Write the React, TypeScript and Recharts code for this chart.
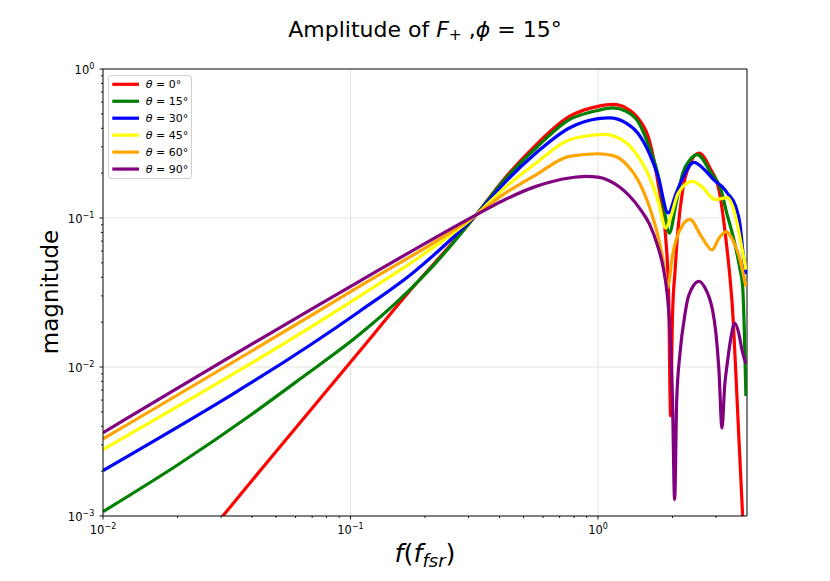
import React from 'react';
import { LineChart, Line, XAxis, YAxis, ReferenceLine } from 'recharts';

type P = { f: number; v: number };
const mk = (pts: number[][]): P[] => pts.map(([f, v]) => ({ f, v }));

// legend labels (theta in degrees) and colours
const thetaLabels = ['0', '15', '30', '45', '60', '90'];
const seriesColors = ['#ff0000', '#008000', '#0000ff', '#ffff00', '#ffa500', '#800080'];

// series values: [frequency (f_fsr), magnitude]
const theta0 = mk([
  [0.028, 0.00084], [0.0305, 0.001], [0.1086, 0.0127], [0.168, 0.0304], [0.322, 0.105],
  [0.412, 0.178], [0.562, 0.31], [0.766, 0.48], [1.0, 0.561], [1.15, 0.578], [1.3, 0.547],
  [1.45, 0.469], [1.61, 0.335], [1.75, 0.17], [1.88, 0.0715], [1.93, 0.03], [1.965, 0.0047],
  [2.0, 0.022], [2.05, 0.045], [2.1, 0.08], [2.2, 0.155], [2.35, 0.23], [2.56, 0.273],
  [2.84, 0.215], [3.08, 0.155], [3.29, 0.0715], [3.39, 0.045], [3.49, 0.0255], [3.6, 0.0096],
  [3.72, 0.003], [3.84, 0.001], [3.92, 0.0004],
]);
const theta15 = mk([
  [0.01, 0.00107], [0.02, 0.0022], [0.0398, 0.0048], [0.0631, 0.0084], [0.1086, 0.0165],
  [0.158, 0.0284], [0.224, 0.0512], [0.322, 0.105], [0.412, 0.175], [0.562, 0.295], [0.766, 0.457],
  [1.0, 0.528], [1.15, 0.548], [1.3, 0.52], [1.45, 0.445], [1.61, 0.3], [1.75, 0.193],
  [1.85, 0.115], [1.94, 0.079], [2.07, 0.126], [2.2, 0.2], [2.35, 0.245], [2.52, 0.266],
  [2.84, 0.205], [3.17, 0.147], [3.29, 0.113], [3.54, 0.0715], [3.75, 0.045], [3.84, 0.035],
  [3.9, 0.018], [3.96, 0.0064],
]);
const theta30 = mk([
  [0.01, 0.00202], [0.1086, 0.0236], [0.18, 0.0433],
  [0.25, 0.0698], [0.322, 0.105], [0.412, 0.167], [0.562, 0.273], [0.766, 0.402], [1.0, 0.464],
  [1.11, 0.47], [1.3, 0.434], [1.45, 0.371], [1.61, 0.273], [1.75, 0.19], [1.92, 0.108],
  [2.07, 0.147], [2.2, 0.185], [2.44, 0.236], [2.7, 0.21], [2.98, 0.176], [3.17, 0.163],
  [3.33, 0.147], [3.6, 0.12], [3.75, 0.09], [3.87, 0.055], [3.96, 0.042],
]);
const theta45 = mk([
  [0.01, 0.00279], [0.1086, 0.0298], [0.2, 0.058], [0.322, 0.105], [0.412, 0.155],
  [0.562, 0.234], [0.766, 0.335], [1.0, 0.362], [1.06, 0.364], [1.3, 0.32], [1.45, 0.26],
  [1.61, 0.19], [1.75, 0.13], [1.88, 0.0857], [1.97, 0.1025], [2.11, 0.147], [2.41, 0.176],
  [2.62, 0.163], [2.98, 0.133], [3.33, 0.137], [3.5, 0.12], [3.65, 0.092], [3.82, 0.062],
  [3.96, 0.045],
]);
const theta60 = mk([
  [0.01, 0.00329], [0.1086, 0.0347], [0.322, 0.105], [0.412, 0.143], [0.562, 0.195],
  [0.766, 0.259], [1.0, 0.27], [1.15, 0.262], [1.3, 0.23], [1.45, 0.18], [1.61, 0.12],
  [1.75, 0.075], [1.83, 0.0525], [1.91, 0.034], [2.0, 0.056], [2.07, 0.0715], [2.2, 0.09],
  [2.35, 0.098], [2.62, 0.075], [2.89, 0.061], [3.08, 0.073], [3.3, 0.081], [3.52, 0.07],
  [3.72, 0.055], [3.96, 0.0347],
]);
const theta90 = mk([
  [0.01, 0.00362], [0.1086, 0.0376], [0.322, 0.105], [0.412, 0.1306], [0.562, 0.163],
  [0.766, 0.1855], [0.894, 0.19], [1.0, 0.188], [1.11, 0.178], [1.219, 0.162], [1.338, 0.141],
  [1.468, 0.117], [1.611, 0.0916], [1.736, 0.0662], [1.835, 0.0464], [1.905, 0.0306],
  [1.96, 0.016], [2.0, 0.006], [2.04, 0.00129], [2.08, 0.006], [2.145, 0.0124], [2.25, 0.023],
  [2.32, 0.0298], [2.56, 0.0376], [2.75, 0.0322], [2.83, 0.0285], [2.9, 0.0243], [3.0, 0.0165],
  [3.08, 0.0096], [3.17, 0.0039], [3.25, 0.0075], [3.33, 0.0106], [3.45, 0.016], [3.57, 0.0197],
  [3.7, 0.017], [3.82, 0.013], [3.96, 0.0105],
]);
const seriesData = [theta0, theta15, theta30, theta45, theta60, theta90];

// ticks
const xMajorTicks = [0.01, 0.1, 1];
const xMajorLabels = ['\u22122', '\u22121', '0'];
const xMinorTicks = [0.02, 0.03, 0.04, 0.05, 0.06, 0.07, 0.08, 0.09, 0.2, 0.3, 0.4, 0.5, 0.6, 0.7, 0.8, 0.9, 2, 3];
const yMajorTicks = [0.001, 0.01, 0.1, 1];
const yMajorLabels = ['\u22123', '\u22122', '\u22121', '0'];
const yMinorTicks = [0.002, 0.003, 0.004, 0.005, 0.006, 0.007, 0.008, 0.009, 0.02, 0.03, 0.04, 0.05, 0.06, 0.07, 0.08, 0.09, 0.2, 0.3, 0.4, 0.5, 0.6, 0.7, 0.8, 0.9];
const xTicks = [...xMajorTicks, ...xMinorTicks].sort((a, b) => a - b);
const yTicks = [...yMajorTicks, ...yMinorTicks].sort((a, b) => a - b);
const xGrid = [0.1, 1];
const yGrid = [0.01, 0.1];

const FONT = 'DejaVu Sans';

const XTick = (props: any) => {
  const { x, y, payload } = props;
  const idx = xMajorTicks.indexOf(payload.value);
  const major = idx >= 0;
  return (
    <g>
      <line x1={x} x2={x} y1={y} y2={y + (major ? 3.5 : 2)} stroke="#000" strokeWidth={0.9} />
      {major && (
        <text x={x} y={y + 18} textAnchor="middle" fontSize={11.5} fontFamily={FONT} fill="#000">
          <tspan>10</tspan>
          <tspan fontSize={8} dy={-4.7}>{xMajorLabels[idx]}</tspan>
        </text>
      )}
    </g>
  );
};

const YTick = (props: any) => {
  const { x, y, payload } = props;
  const idx = yMajorTicks.indexOf(payload.value);
  const major = idx >= 0;
  return (
    <g>
      <line x1={x - (major ? 3.5 : 2)} x2={x} y1={y} y2={y} stroke="#000" strokeWidth={0.9} />
      {major && (
        <text x={x - 8.7} y={y + 4.5} textAnchor="end" fontSize={11.5} fontFamily={FONT} fill="#000">
          <tspan>10</tspan>
          <tspan fontSize={8} dy={-4.5}>{yMajorLabels[idx]}</tspan>
        </text>
      )}
    </g>
  );
};

export default function App() {
  return (
    <div style={{ position: 'absolute', left: 0, top: 0, width: 830, height: 581, background: '#fff' }}>
      <LineChart width={830} height={581} margin={{ top: 69, right: 83, bottom: 0, left: 0 }}>
        <XAxis
          type="number"
          dataKey="f"
          scale="log"
          domain={[0.01, 4]}
          allowDataOverflow
          ticks={xTicks}
          interval={0}
          tick={(p: any) => <XTick {...p} />}
          tickLine={false}
          tickSize={0}
          tickMargin={0}
          height={65}
          axisLine={{ stroke: '#000', strokeWidth: 1 }}
        />
        <YAxis
          type="number"
          dataKey="v"
          scale="log"
          domain={[0.001, 1]}
          allowDataOverflow
          ticks={yTicks}
          interval={0}
          tick={(p: any) => <YTick {...p} />}
          tickLine={false}
          tickSize={0}
          tickMargin={0}
          width={103}
          axisLine={{ stroke: '#000', strokeWidth: 1 }}
        />
        {xGrid.map((g) => (
          <ReferenceLine key={'xg' + g} x={g} stroke="#e3e3e3" strokeWidth={1} />
        ))}
        {yGrid.map((g) => (
          <ReferenceLine key={'yg' + g} y={g} stroke="#e3e3e3" strokeWidth={1} />
        ))}
        <ReferenceLine y={1} stroke="#000" strokeWidth={1} />
        <ReferenceLine x={4} stroke="#000" strokeWidth={1} />
        {seriesData.map((d, i) => (
          <Line
            key={thetaLabels[i]}
            data={d}
            dataKey="v"
            type="monotone"
            stroke={seriesColors[i]}
            strokeWidth={3.2}
            dot={false}
            activeDot={false}
            isAnimationActive={false}
          />
        ))}
      </LineChart>
      <svg
        width={830}
        height={581}
        style={{ position: 'absolute', left: 0, top: 0, pointerEvents: 'none' }}
        fontFamily={FONT}
      >
        <text x={425} y={36.5} textAnchor="middle" fontSize={22} fill="#000">
          Amplitude of <tspan fontStyle="italic">F</tspan>
          <tspan fontSize={15.5} dy={3.5}>+</tspan>
          <tspan dy={-3.5}> ,</tspan>
          <tspan fontStyle="italic">ϕ</tspan> = 15°
        </text>
        <text x={425} y={562} textAnchor="middle" fontSize={25.5} fill="#000">
          <tspan fontStyle="italic">f</tspan>(<tspan fontStyle="italic">f</tspan>
          <tspan fontStyle="italic" fontSize={18} dy={5}>fsr</tspan>
          <tspan dy={-5}>)</tspan>
        </text>
        <text transform="rotate(-90)" x={-292} y={58} textAnchor="middle" fontSize={23} fill="#000">
          magnitude
        </text>
        <rect x={108.5} y={75.5} width={83} height={103} rx={2.5} fill="#fff" fillOpacity={0.8} stroke="#d0d0d0" strokeWidth={1} />
        {thetaLabels.map((t, i) => {
          const cy = 84.3 + i * 16.95;
          return (
            <g key={t}>
              <line x1={112.3} x2={139} y1={cy} y2={cy} stroke={seriesColors[i]} strokeWidth={3.2} />
              <text x={145.7} y={cy + 4} fontSize={11} fill="#000">
                <tspan fontStyle="italic">θ</tspan> = {t}°
              </text>
            </g>
          );
        })}
      </svg>
    </div>
  );
}
